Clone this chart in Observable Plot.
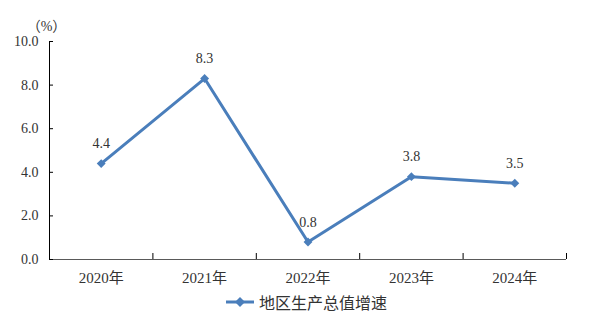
<!DOCTYPE html>
<html>
<head>
<meta charset="utf-8">
<script src="https://cdn.jsdelivr.net/npm/d3@7"></script>
<script src="https://cdn.jsdelivr.net/npm/@observablehq/plot@0.6"></script>
<style>
  html, body { margin: 0; padding: 0; background: #fff; }
  #wrap { width: 590px; height: 319px; position: relative; }
  #legend { display: flex; align-items: center; margin-left: 225px; height: 34px; font-size: 16px; color: #333; font-family: "Noto Sans CJK SC", sans-serif; }
  #legend svg { margin-right: 4px; }
</style>
</head>
<body>
<div id="wrap"></div>
<script>
const years = ["2020年", "2021年", "2022年", "2023年", "2024年"];
const growth = [4.4, 8.3, 0.8, 3.8, 3.5];
const yTicks = [0, 2, 4, 6, 8, 10];
const seriesName = "地区生产总值增速";
const unitLabel = "（%）";
const color = "#4A7EBB";
const serif = "Liberation Serif, DejaVu Serif, Noto Sans CJK SC, serif";

const data = years.map((year, i) => ({year, pos: i + 0.5, value: growth[i]}));
const boundaries = d3.range(years.length + 1);

const chart = Plot.plot({
  width: 590,
  height: 285,
  marginLeft: 49,
  marginRight: 24,
  marginTop: 41,
  marginBottom: 26,
  x: {type: "linear", domain: [0, years.length], axis: null},
  y: {domain: [0, 10], axis: null},
  style: `background: white; color: #333; font-family: ${serif};`,
  marks: [
    Plot.ruleY([0], {stroke: "#595959", strokeWidth: 1}),
    Plot.ruleX([0], {stroke: "#000", strokeWidth: 1}),
    Plot.axisY({ticks: yTicks, tickSize: 4, dx: 4, tickFormat: () => "", stroke: "#000", label: null}),
    Plot.axisY({ticks: yTicks, tickSize: 0, tickPadding: 11, tickFormat: d => d.toFixed(1), fontSize: 14, fontFamily: serif, fill: "#333", label: null}),
    Plot.axisX({ticks: boundaries, tickSize: 6, dy: -6, tickFormat: () => "", stroke: "#000", label: null}),
    Plot.axisX({ticks: data.map(d => d.pos), tickSize: 0, tickPadding: 13, tickFormat: d => years[Math.floor(d)], fontSize: 15, fontFamily: serif, fill: "#333", label: null}),
    Plot.line(data, {x: "pos", y: "value", stroke: color, strokeWidth: 3}),
    Plot.dot(data, {x: "pos", y: "value", symbol: "diamond2", r: 4, fill: color, stroke: "none"}),
    Plot.text(data, {x: "pos", y: "value", text: d => d.value.toFixed(1), dy: -20, fontSize: 14, fontFamily: serif, fill: "#333"}),
    Plot.text([unitLabel], {text: d => d, frameAnchor: "top-left", textAnchor: "middle", dx: -3, dy: -20, fontSize: 14, fontFamily: serif, fill: "#333"})
  ]
});

const wrap = document.getElementById("wrap");
wrap.appendChild(chart);

const legend = document.createElement("div");
legend.id = "legend";
legend.innerHTML = `<svg width="30" height="12"><line x1="1" y1="6" x2="29" y2="6" stroke="${color}" stroke-width="3"/><path d="M15,1 L20,6 L15,11 L10,6 Z" fill="${color}"/></svg><span>${seriesName}</span>`;
wrap.appendChild(legend);
</script>
</body>
</html>
